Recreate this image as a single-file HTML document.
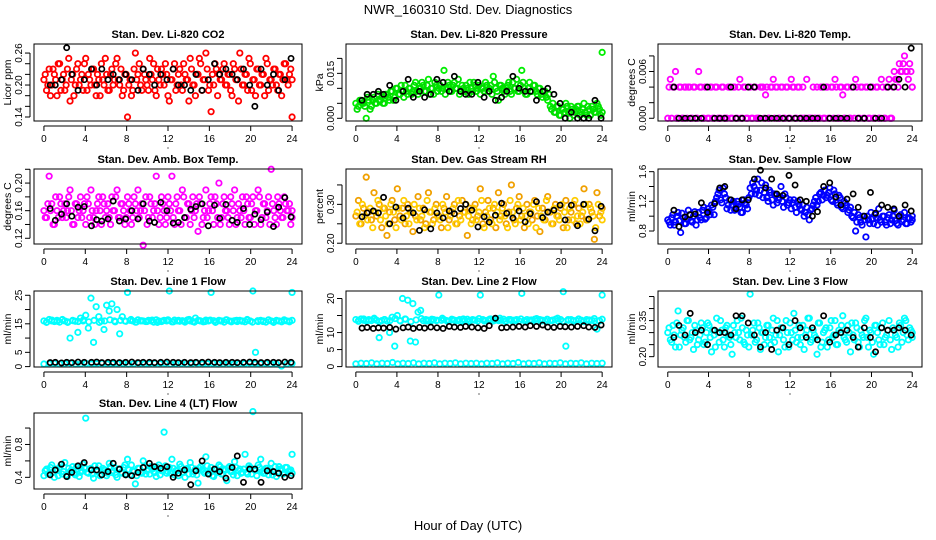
<!DOCTYPE html>
<html><head><meta charset="utf-8"><style>
html,body{margin:0;padding:0;background:#fff;}
svg{display:block;font-family:"Liberation Sans",Arial,sans-serif;}
</style></head><body>
<svg id="chart" width="936" height="540" viewBox="0 0 936 540">
<text x="468" y="14" text-anchor="middle" font-size="13">NWR_160310  Std. Dev. Diagnostics</text>
<text x="468" y="530" text-anchor="middle" font-size="13">Hour of Day (UTC)</text>
</svg>
<script>
const xTicks = [0,4,8,12,16,20,24];
const blackHours = [0.6,1.1,1.7,2.2,2.7,3.3,3.9,4.6,5.1,5.6,6.2,6.7,7.3,7.9,8.5,9.1,9.6,10.2,10.7,11.3,11.9,12.5,13.0,13.6,14.2,14.7,15.3,15.9,16.5,17.0,17.6,18.2,18.7,19.3,19.9,20.4,21.0,21.6,22.2,22.7,23.3,23.9];

const co2Values = [0.21,0.19,0.23,0.20,0.22,0.18,0.24,0.21,0.19,0.23,0.17,0.22,0.20,0.24,0.21,0.19,0.25,0.22,0.20,0.23,0.18,0.21,0.24,0.20,0.22,0.19,0.23,0.21,0.25,0.20,0.18,0.22,0.14,0.21,0.19,0.26,0.22,0.20,0.23,0.21,0.19,0.22,0.24,0.18,0.21,0.23,0.20,0.22,0.17,0.21,0.24,0.20,0.23,0.19,0.22,0.21,0.25,0.20,0.18,0.22,0.24,0.21,0.26,0.19,0.15,0.20,0.23,0.22,0.21,0.24,0.20,0.22,0.18,0.23,0.21,0.26,0.20,0.22,0.19,0.24,0.21,0.18,0.23,0.20,0.22,0.25,0.19,0.21,0.23,0.20,0.22,0.18,0.24,0.21,0.22,0.14];
const co2ValuesB = [0.22,0.20,0.18,0.23,0.21,0.24,0.19,0.22,0.20,0.25,0.21,0.18,0.23,0.20,0.22,0.24,0.19,0.21,0.23,0.20,0.22,0.18,0.21,0.25,0.19,0.22,0.20,0.24,0.21,0.23,0.19,0.22,0.20,0.18,0.23,0.21,0.24,0.19,0.22,0.20,0.25,0.21,0.19,0.23,0.20,0.22,0.24,0.18,0.21,0.23,0.19,0.22,0.20,0.24,0.21,0.17,0.23,0.20,0.22,0.25,0.19,0.21,0.23,0.20,0.22,0.24,0.18,0.21,0.23,0.20,0.22,0.19,0.24,0.21,0.17,0.23,0.20,0.22,0.25,0.19,0.21,0.23,0.20,0.22,0.18,0.24,0.21,0.20,0.23,0.19,0.22,0.21,0.24,0.20,0.23,0.21];
const co2Black = [0.20,0.20,0.21,0.27,0.22,0.19,0.21,0.23,0.20,0.23,0.21,0.22,0.21,0.22,0.21,0.19,0.23,0.22,0.20,0.22,0.21,0.23,0.20,0.20,0.19,0.22,0.19,0.21,0.24,0.22,0.23,0.22,0.21,0.23,0.20,0.16,0.23,0.20,0.22,0.19,0.21,0.25];

const pressValues = [0.005,0.004,0.006,0.005,0.000,0.006,0.004,0.007,0.005,0.006,0.007,0.005,0.008,0.006,0.009,0.007,0.010,0.008,0.009,0.011,0.008,0.010,0.009,0.012,0.008,0.010,0.011,0.009,0.013,0.010,0.008,0.011,0.010,0.009,0.016,0.010,0.011,0.009,0.012,0.010,0.008,0.011,0.009,0.010,0.012,0.009,0.011,0.010,0.008,0.010,0.012,0.009,0.011,0.014,0.010,0.006,0.011,0.009,0.010,0.012,0.008,0.010,0.013,0.009,0.016,0.010,0.008,0.012,0.009,0.011,0.008,0.010,0.007,0.009,0.006,0.004,0.005,0.002,0.004,0.001,0.003,0.005,0.002,0.004,0.001,0.003,0.004,0.002,0.005,0.001,0.003,0.004,0.002,0.005,0.003,0.022];
const pressValuesB = [0.003,0.006,0.005,0.004,0.007,0.003,0.006,0.005,0.008,0.006,0.005,0.008,0.007,0.009,0.006,0.010,0.008,0.011,0.007,0.009,0.010,0.008,0.011,0.009,0.010,0.012,0.009,0.011,0.008,0.010,0.012,0.009,0.011,0.010,0.008,0.012,0.009,0.011,0.010,0.013,0.009,0.010,0.011,0.008,0.010,0.012,0.009,0.011,0.010,0.009,0.011,0.010,0.008,0.012,0.009,0.011,0.010,0.008,0.011,0.009,0.012,0.010,0.009,0.011,0.012,0.008,0.010,0.009,0.011,0.009,0.010,0.008,0.009,0.007,0.008,0.003,0.002,0.004,0.001,0.003,0.002,0.004,0.000,0.003,0.002,0.004,0.001,0.003,0.002,0.004,0.001,0.003,0.002,0.004,0.001,0.002];
const pressBlack = [0.006,0.008,0.008,0.009,0.008,0.011,0.006,0.009,0.013,0.007,0.009,0.007,0.008,0.013,0.012,0.009,0.014,0.009,0.008,0.008,0.012,0.007,0.009,0.006,0.007,0.009,0.014,0.010,0.009,0.009,0.006,0.009,0.010,0.008,0.005,0.000,0.002,0.000,0.000,0.000,0.006,0.000];

const tempValues = [0.000,0.005,0.004,0.006,0.000,0.004,0.000,0.004,0.004,0.000,0.004,0.000,0.006,0.004,0.000,0.004,0.000,0.004,0.000,0.004,0.000,0.004,0.000,0.000,0.004,0.000,0.004,0.000,0.005,0.000,0.004,0.000,0.004,0.000,0.004,0.000,0.004,0.004,0.003,0.000,0.004,0.005,0.004,0.000,0.004,0.000,0.004,0.000,0.005,0.004,0.000,0.004,0.000,0.000,0.005,0.000,0.000,0.000,0.004,0.000,0.004,0.000,0.004,0.000,0.004,0.005,0.000,0.004,0.003,0.000,0.004,0.000,0.004,0.005,0.000,0.004,0.000,0.004,0.000,0.004,0.000,0.004,0.000,0.005,0.000,0.004,0.005,0.000,0.006,0.005,0.007,0.006,0.008,0.006,0.007,0.004];
const tempValuesB = [0.004,0.000,0.004,0.000,0.004,0.000,0.004,0.000,0.004,0.000,0.004,0.000,0.004,0.000,0.004,0.000,0.004,0.000,0.004,0.000,0.000,0.004,0.000,0.004,0.000,0.004,0.000,0.004,0.000,0.004,0.000,0.004,0.000,0.004,0.000,0.000,0.004,0.000,0.004,0.000,0.004,0.000,0.004,0.000,0.004,0.000,0.004,0.000,0.004,0.000,0.004,0.000,0.004,0.000,0.000,0.000,0.004,0.000,0.000,0.004,0.000,0.004,0.000,0.004,0.000,0.004,0.000,0.004,0.000,0.004,0.000,0.004,0.000,0.004,0.000,0.004,0.000,0.004,0.000,0.004,0.000,0.004,0.000,0.004,0.000,0.004,0.000,0.004,0.005,0.004,0.006,0.007,0.006,0.005,0.006,0.004];
const tempBlack = [0.004,0.000,0.000,0.000,0.000,0.000,0.004,0.000,0.000,0.000,0.004,0.000,0.000,0.004,0.004,0.000,0.000,0.000,0.000,0.000,0.000,0.000,0.000,0.000,0.000,0.000,0.004,0.000,0.000,0.000,0.000,0.004,0.000,0.000,0.004,0.000,0.000,0.004,0.004,0.005,0.004,0.009];

const ambValues = [0.16,0.15,0.21,0.17,0.14,0.16,0.18,0.15,0.17,0.16,0.19,0.14,0.17,0.15,0.18,0.16,0.14,0.17,0.19,0.15,0.16,0.18,0.14,0.17,0.16,0.15,0.18,0.16,0.19,0.15,0.17,0.14,0.18,0.16,0.15,0.17,0.19,0.16,0.11,0.18,0.15,0.17,0.16,0.21,0.14,0.18,0.16,0.15,0.17,0.21,0.14,0.18,0.16,0.19,0.15,0.17,0.14,0.18,0.16,0.13,0.17,0.15,0.19,0.16,0.18,0.14,0.17,0.20,0.15,0.18,0.16,0.14,0.17,0.19,0.15,0.16,0.18,0.14,0.17,0.15,0.18,0.16,0.19,0.14,0.17,0.15,0.18,0.22,0.16,0.14,0.17,0.15,0.18,0.16,0.17,0.15];
const ambValuesB = [0.15,0.17,0.16,0.14,0.18,0.15,0.17,0.16,0.15,0.18,0.16,0.14,0.17,0.16,0.15,0.17,0.18,0.15,0.16,0.14,0.17,0.16,0.18,0.15,0.17,0.14,0.16,0.18,0.15,0.17,0.16,0.15,0.17,0.14,0.18,0.16,0.15,0.17,0.16,0.14,0.18,0.15,0.17,0.16,0.15,0.17,0.14,0.18,0.16,0.15,0.17,0.16,0.14,0.18,0.15,0.17,0.16,0.15,0.17,0.18,0.14,0.16,0.15,0.17,0.16,0.18,0.15,0.14,0.17,0.16,0.15,0.18,0.16,0.14,0.17,0.15,0.16,0.18,0.15,0.17,0.14,0.16,0.18,0.15,0.17,0.16,0.14,0.17,0.15,0.18,0.16,0.15,0.17,0.16,0.14,0.16];
const ambBlack = [0.163,0.146,0.155,0.170,0.152,0.165,0.166,0.138,0.147,0.145,0.148,0.174,0.145,0.148,0.160,0.148,0.170,0.145,0.143,0.172,0.160,0.142,0.143,0.150,0.162,0.166,0.170,0.138,0.168,0.149,0.169,0.146,0.143,0.163,0.140,0.155,0.147,0.158,0.137,0.165,0.179,0.151];

const rhValues = [0.27,0.31,0.25,0.29,0.37,0.28,0.26,0.33,0.27,0.30,0.24,0.29,0.22,0.28,0.31,0.26,0.34,0.27,0.29,0.25,0.30,0.28,0.23,0.27,0.32,0.26,0.29,0.25,0.33,0.28,0.26,0.30,0.27,0.24,0.29,0.32,0.26,0.28,0.30,0.25,0.27,0.31,0.28,0.22,0.29,0.26,0.30,0.27,0.34,0.25,0.28,0.31,0.26,0.29,0.24,0.33,0.27,0.30,0.25,0.28,0.35,0.26,0.29,0.32,0.27,0.24,0.30,0.28,0.26,0.31,0.27,0.23,0.29,0.26,0.32,0.28,0.25,0.30,0.27,0.29,0.24,0.31,0.26,0.28,0.30,0.25,0.29,0.27,0.34,0.26,0.30,0.28,0.21,0.33,0.27,0.29];
const rhValuesB = [0.28,0.25,0.30,0.27,0.26,0.29,0.24,0.28,0.31,0.26,0.29,0.27,0.25,0.30,0.28,0.24,0.29,0.26,0.31,0.27,0.25,0.28,0.30,0.26,0.29,0.27,0.24,0.31,0.28,0.25,0.29,0.27,0.26,0.30,0.28,0.24,0.27,0.29,0.25,0.31,0.26,0.28,0.30,0.27,0.25,0.29,0.26,0.28,0.31,0.24,0.27,0.29,0.25,0.30,0.28,0.26,0.29,0.27,0.24,0.31,0.28,0.25,0.30,0.26,0.29,0.27,0.25,0.28,0.30,0.24,0.29,0.27,0.26,0.31,0.28,0.25,0.29,0.27,0.26,0.30,0.28,0.24,0.29,0.26,0.31,0.27,0.25,0.28,0.30,0.26,0.29,0.27,0.24,0.30,0.28,0.26];
const rhBlack = [0.268,0.278,0.283,0.278,0.318,0.250,0.293,0.265,0.290,0.278,0.233,0.286,0.237,0.278,0.265,0.283,0.276,0.289,0.300,0.285,0.242,0.268,0.254,0.272,0.303,0.277,0.265,0.283,0.255,0.276,0.307,0.266,0.280,0.285,0.298,0.260,0.298,0.245,0.300,0.262,0.232,0.295];

const flowValues = [0.95,0.88,1.02,0.92,1.05,0.78,0.98,0.90,1.08,0.94,1.00,0.88,1.05,0.95,1.12,0.98,1.06,1.15,1.02,1.25,1.35,1.18,1.30,1.10,1.22,1.15,1.08,1.20,1.12,1.05,1.18,1.10,1.38,1.45,1.30,1.50,1.35,1.25,1.42,1.20,1.32,1.15,1.28,1.22,1.40,1.12,1.25,1.18,1.10,1.22,1.05,1.15,1.08,1.00,1.12,0.95,1.10,1.20,1.15,1.30,1.22,1.35,1.28,1.38,1.20,1.30,1.15,1.25,1.10,1.18,1.05,1.12,0.98,0.80,1.02,0.92,1.00,0.72,0.95,1.05,0.90,0.98,1.10,0.92,1.00,0.88,1.02,0.95,1.08,0.90,0.98,0.93,1.05,0.90,0.97,1.00];
const flowValuesB = [0.92,0.98,0.88,1.00,0.94,1.04,0.90,0.96,1.02,0.92,1.06,0.95,0.98,1.08,0.96,1.10,1.02,1.12,1.20,1.30,1.22,1.38,1.25,1.15,1.08,1.20,1.12,1.16,1.05,1.22,1.15,1.25,1.30,1.40,1.35,1.28,1.45,1.32,1.25,1.35,1.22,1.30,1.18,1.25,1.20,1.30,1.15,1.22,1.18,1.12,1.20,1.10,1.15,1.05,1.02,1.08,1.15,1.25,1.20,1.32,1.28,1.25,1.32,1.22,1.35,1.18,1.28,1.12,1.20,1.15,1.08,1.00,1.05,0.92,0.98,0.88,0.95,1.00,0.90,0.96,1.02,0.88,0.95,1.00,0.92,0.98,0.90,1.00,0.94,0.88,1.02,0.95,0.90,0.98,0.92,0.95];
const flowBlack = [1.08,0.86,0.99,1.02,1.03,1.18,1.05,1.17,1.38,1.40,1.22,1.10,1.22,1.22,1.50,1.62,1.38,1.50,1.30,1.28,1.55,1.42,1.22,1.20,1.00,1.06,1.40,1.45,1.26,1.15,1.23,1.30,1.12,1.00,1.32,1.04,1.15,1.12,1.10,1.00,1.15,1.07];

const line1High = [16,15.5,16.5,16,15.8,16.2,15.6,16.4,16,15.7,10,16.2,15.9,12,17,16,18,13.5,24,8.5,21,17.5,16,13,21.5,19.5,22,16,20,11.5,17.5,16,26,16.2,16,15.6,16.4,16,16,15.8,16.2,16,15.6,16.4,16,15.8,16.2,16,26.5,15.7,16.3,16,15.9,16.1,15.6,16.4,16,15.8,17,16.2,16,15.7,16.3,16,26,16.1,15.8,16.2,16,15.6,16.4,16,15.9,16.1,15.8,16.2,16,15.7,16.3,16,26.5,5,15.8,16.2,16,15.6,16.4,16,15.8,16.2,16,15.7,16.1,16,15.9,26];
const line1HighB = [15.6,16.3,15.9,16.5,15.5,16.1,15.8,16.4,15.7,16.2,15.5,16.0,16.4,15.7,16.2,15.9,16.5,15.6,16.1,15.8,16.3,15.5,16.0,16.4,15.7,16.2,15.9,16.5,15.6,16.1,15.8,16.3,15.5,16.0,16.4,15.7,16.2,15.9,16.5,15.6,16.1,15.8,16.3,15.5,16.0,16.4,15.7,16.2];
const line1Low = [0.9,1.0,1.1,0.9,1.0,1.2,0.9,1.0,1.1,0.9,1.0,1.1,0.9,1.0,1.0,1.1,0.9,1.0,1.1,0.9,1.0,1.1,1.0,1.1,0.9,1.0,1.1,0.9,1.0,1.2,0.9,1.0,1.1,0.9,1.0,1.1,0.9,1.0,1.0,1.1,0.9,1.0,1.1,0.9,1.0,0.2,1.0,1.1];
const line1Black = [1.4,1.5,1.3,1.5,1.4,1.6,1.5,1.5,1.6,1.4,1.5,1.5,1.4,1.5,1.6,1.4,1.5,1.5,1.4,1.5,1.6,1.5,1.4,1.5,1.4,1.5,1.5,1.6,1.5,1.4,1.5,1.5,1.4,1.5,1.6,1.5,1.4,1.5,1.5,1.4,1.6,1.5];

const line2High = [13.8,13.5,14,13.6,13.4,13.8,13.5,13.9,13.6,8.5,13.5,13.8,13.4,10,14.5,6,15,13.5,20,14,19.5,7.5,18.5,7.2,16,16.5,13.5,13.8,13.6,13.4,13.8,13.5,21,13.6,13.8,13.5,13.4,13.9,13.6,13.5,13.8,13.4,13.6,13.9,13.5,13.8,13.6,13.4,21,13.8,13.5,13.6,14,13.4,13.8,13.5,13.6,13.9,13.4,13.8,13.5,13.6,13.8,13.4,21.5,13.5,13.8,13.6,13.4,13.9,13.5,13.8,13.6,13.4,13.8,13.5,13.6,13.9,13.4,13.8,22,6,13.6,13.8,13.4,13.5,13.9,13.6,13.4,13.8,13.5,13.6,13.4,11,13.5,21];
const line2HighB = [13.3,14.0,13.6,14.2,13.2,13.8,13.5,14.1,13.4,13.9,13.2,13.7,14.1,13.4,13.9,13.6,14.2,13.3,13.8,13.5,14.0,13.2,13.7,14.1,13.4,13.9,13.6,14.2,13.3,13.8,13.5,14.0,13.2,13.7,14.1,13.4,13.9,13.6,14.2,13.3,13.8,13.5,14.0,13.2,13.7,14.1,13.4,13.9];
const line2Low = [0.8,1.0,0.9,1.1,0.8,1.0,0.9,1.2,0.8,1.0,0.9,1.1,0.8,1.0,0.9,1.1,0.8,1.0,0.9,1.1,0.8,1.0,0.9,1.0,0.8,1.0,0.9,1.1,0.8,1.0,0.9,1.2,0.8,1.0,0.9,1.1,0.8,1.0,0.9,1.1,0.8,1.0,0.9,1.1,0.8,1.0,0.9,1.0];
const line2Black = [11.3,11.5,11.2,11.4,11.3,11.5,11.0,11.4,11.6,11.2,11.5,11.3,11.6,11.4,11.2,11.8,11.6,11.5,11.8,11.6,11.4,11.2,12.0,14.2,11.4,11.5,11.6,11.8,11.6,12.0,11.8,12.2,11.6,11.5,11.8,11.7,11.6,11.8,12.0,11.6,11.5,12.2];

const line3Values = [0.30,0.27,0.33,0.24,0.39,0.29,0.32,0.26,0.35,0.28,0.23,0.31,0.27,0.34,0.25,0.30,0.33,0.22,0.29,0.36,0.26,0.31,0.24,0.33,0.28,0.21,0.30,0.35,0.27,0.32,0.25,0.29,0.46,0.31,0.26,0.34,0.23,0.30,0.28,0.33,0.25,0.36,0.29,0.22,0.32,0.27,0.35,0.24,0.30,0.38,0.26,0.33,0.28,0.23,0.31,0.36,0.27,0.29,0.21,0.34,0.26,0.31,0.24,0.32,0.28,0.35,0.25,0.30,0.37,0.27,0.33,0.22,0.29,0.34,0.26,0.31,0.28,0.36,0.24,0.30,0.21,0.33,0.27,0.32,0.25,0.29,0.35,0.23,0.31,0.28,0.34,0.26,0.36,0.29,0.32,0.30];
const line3ValuesB = [0.32,0.26,0.29,0.34,0.24,0.31,0.28,0.35,0.27,0.30,0.33,0.25,0.29,0.32,0.26,0.34,0.28,0.31,0.24,0.30,0.35,0.27,0.32,0.29,0.25,0.33,0.28,0.30,0.36,0.26,0.31,0.24,0.29,0.34,0.27,0.32,0.30,0.25,0.33,0.28,0.31,0.26,0.35,0.29,0.32,0.24,0.30,0.34,0.27,0.31,0.28,0.25,0.33,0.29,0.36,0.26,0.31,0.28,0.34,0.24,0.30,0.32,0.27,0.35,0.29,0.25,0.31,0.33,0.28,0.26,0.30,0.34,0.27,0.32,0.24,0.29,0.35,0.28,0.31,0.26,0.33,0.30,0.25,0.34,0.28,0.31,0.27,0.32,0.29,0.24,0.33,0.30,0.35,0.27,0.31,0.28];
const line3Black = [0.28,0.33,0.29,0.38,0.30,0.31,0.25,0.31,0.30,0.30,0.29,0.37,0.37,0.34,0.29,0.24,0.30,0.23,0.31,0.32,0.25,0.35,0.32,0.28,0.32,0.27,0.37,0.26,0.29,0.30,0.31,0.28,0.24,0.32,0.28,0.22,0.32,0.31,0.31,0.32,0.31,0.29];

const line4Values = [0.42,0.50,0.45,0.55,0.40,0.48,0.52,0.44,0.58,0.41,0.47,0.53,0.43,0.50,0.46,0.56,1.12,0.45,0.51,0.39,0.48,0.54,0.44,0.49,0.42,0.57,0.46,0.52,0.40,0.50,0.45,0.55,0.62,0.43,0.48,0.32,0.51,0.46,0.60,0.44,0.50,0.53,0.47,0.41,0.55,0.48,0.95,0.45,0.52,0.62,0.43,0.49,0.56,0.46,0.40,0.51,0.58,0.44,0.50,0.33,0.53,0.47,0.65,0.45,0.52,0.41,0.49,0.55,0.44,0.50,0.36,0.53,0.47,0.59,0.42,0.50,0.46,0.68,0.44,0.52,1.20,0.48,0.55,0.62,0.45,0.51,0.43,0.57,0.47,0.41,0.53,0.49,0.45,0.52,0.48,0.68];
const line4ValuesB = [0.48,0.44,0.52,0.46,0.50,0.42,0.55,0.47,0.43,0.51,0.49,0.45,0.53,0.41,0.48,0.52,0.46,0.50,0.44,0.54,0.47,0.42,0.51,0.49,0.45,0.53,0.48,0.43,0.50,0.46,0.52,0.44,0.49,0.55,0.47,0.42,0.51,0.45,0.53,0.48,0.44,0.50,0.46,0.52,0.43,0.49,0.54,0.47,0.45,0.51,0.48,0.42,0.53,0.46,0.50,0.44,0.52,0.47,0.43,0.51,0.49,0.45,0.54,0.48,0.42,0.50,0.46,0.53,0.44,0.49,0.51,0.47,0.43,0.52,0.48,0.45,0.50,0.46,0.54,0.44,0.49,0.42,0.52,0.47,0.45,0.51,0.48,0.43,0.53,0.46,0.50,0.44,0.52,0.47,0.49,0.45];
const line4Black = [0.43,0.49,0.56,0.41,0.46,0.54,0.58,0.49,0.49,0.43,0.47,0.57,0.50,0.43,0.42,0.46,0.52,0.57,0.53,0.51,0.53,0.40,0.45,0.49,0.31,0.48,0.60,0.44,0.50,0.47,0.39,0.52,0.66,0.34,0.50,0.50,0.34,0.48,0.47,0.45,0.40,0.42];

const panels = [
 {title:"Stan. Dev. Li-820 CO2", ylab:"Licor ppm", box:[34,44,302,121], ymin:0.1325, ymax:0.277, ticks:[0.14,0.16,0.18,0.20,0.22,0.24,0.26], labels:["0.14","0.20","0.26"], colors:["#ff0000","#ff0000"], main:[co2Values,co2ValuesB], black:co2Black},
 {title:"Stan. Dev. Li-820 Pressure", ylab:"kPa", box:[346,44,612,121], ymin:-0.0009, ymax:0.0248, ticks:[0,0.005,0.010,0.015,0.020], labels:["0.000","0.015"], colors:["#00ee00","#00dd00"], main:[pressValues,pressValuesB], black:pressBlack},
 {title:"Stan. Dev. Li-820 Temp.", ylab:"degrees C", box:[658,44,922,121], ymin:-0.00035, ymax:0.00953, ticks:[0,0.002,0.004,0.006,0.008], labels:["0.000","0.006"], colors:["#ff00ff","#ff00ff"], main:[tempValues,tempValuesB], black:tempBlack},
 {title:"Stan. Dev. Amb. Box Temp.", ylab:"degrees C", box:[34,169,302,244], ymin:0.1117, ymax:0.2204, ticks:[0.12,0.14,0.16,0.18,0.20,0.22], labels:["0.12","0.16","0.20"], colors:["#ff00ff","#ff00ff"], main:[ambValues,ambValuesB], black:ambBlack},
 {title:"Stan. Dev. Gas Stream RH", ylab:"percent", box:[346,169,612,244], ymin:0.198, ymax:0.391, ticks:[0.20,0.25,0.30,0.35], labels:["0.20","0.30"], colors:["#f0a000","#ffcc00"], main:[rhValues,rhValuesB], black:rhBlack},
 {title:"Stan. Dev. Sample Flow", ylab:"ml/min", box:[658,169,922,244], ymin:0.625, ymax:1.636, ticks:[0.8,1.0,1.2,1.4,1.6], labels:["0.8","1.2","1.6"], colors:["#0000ff","#0000ff"], main:[flowValues,flowValuesB], black:flowBlack},
 {title:"Stan. Dev. Line 1 Flow", ylab:"ml/min", box:[34,291,302,367], ymin:-0.14, ymax:26.5, ticks:[0,5,10,15,20,25], labels:["0","5","15","25"], colors:["#00ffff","#00ffff","#00ffff"], main:[line1High,line1HighB,line1Low], black:line1Black},
 {title:"Stan. Dev. Line 2 Flow", ylab:"ml/min", box:[346,291,612,367], ymin:-0.12, ymax:22.2, ticks:[0,5,10,15,20], labels:["0","5","10","20"], colors:["#00ffff","#00ffff","#00ffff"], main:[line2High,line2HighB,line2Low], black:line2Black},
 {title:"Stan. Dev. Line 3 Flow", ylab:"ml/min", box:[658,291,922,367], ymin:0.157, ymax:0.473, ticks:[0.20,0.25,0.30,0.35,0.40,0.45], labels:["0.20","0.35"], colors:["#00ffff","#00ffff"], main:[line3Values,line3ValuesB], black:line3Black},
 {title:"Stan. Dev. Line 4 (LT) Flow", ylab:"ml/min", box:[34,413,302,489], ymin:0.258, ymax:1.183, ticks:[0.4,0.6,0.8,1.0], labels:["0.4","0.8"], colors:["#00ffff","#00ffff"], main:[line4Values,line4ValuesB], black:line4Black}
];

const NS = "http://www.w3.org/2000/svg";
const svg = document.getElementById("chart");
function mk(tag, attrs, parent){ const e=document.createElementNS(NS,tag); for(const k in attrs) e.setAttribute(k,attrs[k]); (parent||svg).appendChild(e); return e; }

panels.forEach((p, pi) => {
  const [L,T,R,B] = p.box;
  const g = mk("g", {});
  
  
  const sx = (R-L)/25.92;
  const xScale = h => L + (h + 0.96) * sx;
  const yScale = v => B - (v - p.ymin) / (p.ymax - p.ymin) * (B - T);
  const tt = mk("text", {x:(L+R)/2, y:T-6, "text-anchor":"middle", "font-size":"11", "font-weight":"bold"}, g);
  tt.textContent = p.title;
  
  
  const yl = mk("text", {x:0, y:0, "text-anchor":"middle", "font-size":"10.5", transform:`translate(${L-23},${(T+B)/2}) rotate(-90)`}, g);
  yl.textContent = p.ylab;
  
  
  const ax = mk("line", {x1:xScale(0), x2:xScale(24), y1:B+5, y2:B+5, stroke:"#000", "stroke-width":1}, g);
  
  
  xTicks.forEach(t => {
    const x = xScale(t);
    mk("line", {x1:x, x2:x, y1:B+5, y2:B+10, stroke:"#000"}, g);
    const tl = mk("text", {x:x, y:B+21, "text-anchor":"middle", "font-size":"10"}, g);
    tl.textContent = t;
    
    
  });
  mk("circle", {cx:(L+R)/2, cy:B+27, r:0.6, fill:"#000"}, g);
  const ay = mk("line", {x1:L-4, x2:L-4, y1:yScale(p.ticks[0]), y2:yScale(p.ticks[p.ticks.length-1]), stroke:"#000"}, g);
  
  
  p.ticks.forEach(t => {
    const y = yScale(t);
    mk("line", {x1:L-9, x2:L-4, y1:y, y2:y, stroke:"#000"}, g);
  });
  p.labels.forEach(lab => {
    const y = yScale(parseFloat(lab));
    const tl = mk("text", {x:0, y:0, "text-anchor":"middle", "font-size":"10", transform:`translate(${L-12},${y}) rotate(-90)`}, g);
    tl.textContent = lab;
    
    
  });
  p.main.forEach((arr, si) => {
    const n = arr.length;
    const off = si % 2 === 1 ? 0.5 : 0;
    arr.forEach((v, i) => {
      const h = Math.min(24, (i + off) * 24 / (n - 1));
      const c = mk("circle", {cx:xScale(h), cy:yScale(v), r:2.7, fill:"none", stroke:p.colors[si], "stroke-width":1.8}, g);
      
      
    });
  });
  p.black.forEach((v, i) => {
    const c = mk("circle", {cx:xScale(blackHours[i]), cy:yScale(v), r:2.6, fill:"none", stroke:"#000", "stroke-width":1.7}, g);
    
    
  });
  const box = mk("rect", {x:L, y:T, width:R-L, height:B-T, fill:"none", stroke:"#000", "stroke-width":1}, g);
  
  
});
</script>
</body></html>
